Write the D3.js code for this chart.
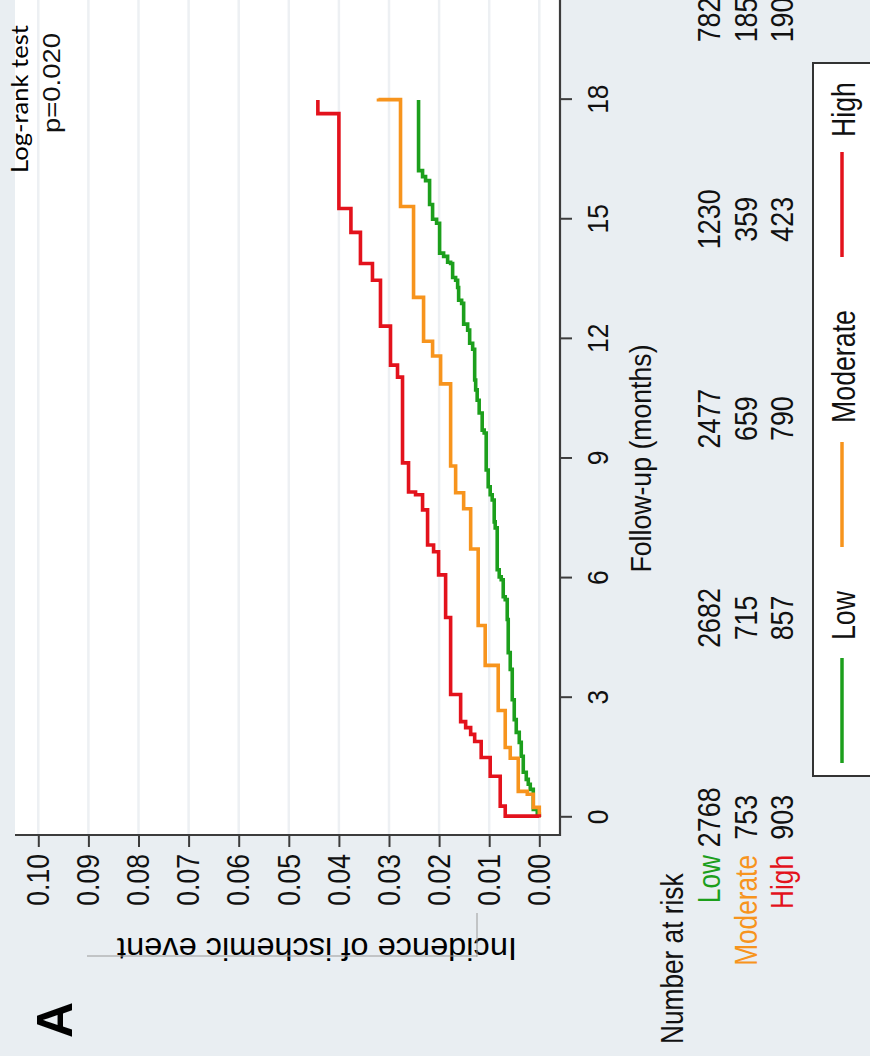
<!DOCTYPE html>
<html><head><meta charset="utf-8">
<script src="https://cdn.jsdelivr.net/npm/d3@7"></script>
<style>html,body{margin:0;padding:0;background:#e9eef2;} svg{display:block}</style>
</head><body><svg id="c" width="870" height="1056"></svg>
<script>
// ---------- data ----------
const timeTicks = [0, 3, 6, 9, 12, 15, 18];
const incTicks = [0, 0.01, 0.02, 0.03, 0.04, 0.05, 0.06, 0.07, 0.08, 0.09, 0.10];
const groups = ["Low", "Moderate", "High"];
const colors = ["#1c9f1c", "#f7941d", "#e3121c"];

const lowTimes = [0.08,0.20,0.70,0.83,0.95,1.13,1.53,1.88,2.13,2.45,2.95,3.71,4.13,4.96,5.46,5.53,5.96,6.03,6.21,7.26,7.41,7.96,8.09,8.29,8.71,9.64,9.71,10.14,10.46,10.72,10.97,11.74,11.89,12.22,12.37,12.89,12.97,13.29,13.47,13.54,13.89,13.92,14.07,14.15,14.90,15.00,15.37,15.97,16.07,16.22];
const lowValues = [0.0004,0.0012,0.0018,0.0022,0.0026,0.0032,0.0036,0.0040,0.0046,0.0050,0.0054,0.0058,0.0062,0.0064,0.0068,0.0072,0.0076,0.0080,0.0084,0.0088,0.0090,0.0094,0.0098,0.0102,0.0106,0.0110,0.0114,0.0120,0.0124,0.0127,0.0129,0.0133,0.0139,0.0143,0.0151,0.0155,0.0161,0.0163,0.0167,0.0173,0.0177,0.0183,0.0191,0.0199,0.0205,0.0213,0.0219,0.0227,0.0233,0.0241];
const lowEnd = 17.99;

const moderateTimes = [0.25,0.58,0.65,1.48,1.75,2.68,3.81,4.81,6.73,7.74,8.14,8.81,10.87,11.57,11.94,13.04,15.32,18.00];
const moderateValues = [0.0012,0.0024,0.0042,0.0058,0.0068,0.0082,0.0108,0.0122,0.0137,0.0151,0.0167,0.0177,0.0197,0.0213,0.0231,0.0251,0.0277,0.0321];
const moderateEnd = 18.03;

const highTimes = [0.03,0.28,1.03,1.50,1.90,2.08,2.25,2.40,3.08,5.01,6.08,6.66,6.83,7.71,8.09,8.16,8.89,11.04,11.34,12.32,13.47,13.89,14.67,15.27,17.65];
const highValues = [0.0068,0.0078,0.0098,0.0116,0.0129,0.0137,0.0147,0.0157,0.0177,0.0187,0.0201,0.0211,0.0223,0.0233,0.0247,0.0261,0.0273,0.0283,0.0297,0.0317,0.0333,0.0357,0.0376,0.0400,0.0442];
const highEnd = 17.99;

const riskTimes = [0, 5, 10, 15, 20];
const riskLow = [2768, 2682, 2477, 1230, 782];
const riskModerate = [753, 715, 659, 359, 185];
const riskHigh = [903, 857, 790, 423, 190];

// ---------- helpers ----------
const FONT = "'Liberation Sans', Arial, sans-serif";
function condense(sel, f) {
  sel.each(function () {
    const L = this.getComputedTextLength();
    this.setAttribute("textLength", L * f);
    this.setAttribute("lengthAdjust", "spacingAndGlyphs");
  });
}
function fit(sel, len) {
  sel.attr("textLength", len).attr("lengthAdjust", "spacingAndGlyphs");
}

const svg = d3.select("#c");
svg.append("rect").attr("width", 870).attr("height", 1056).attr("fill", "#e9eef2");
// chart drawn in its upright orientation, then turned a quarter turn
const g = svg.append("g").attr("transform", "translate(0,1056) rotate(-90)");

const x = d3.scaleLinear().domain([0, 20]).range([238.7, 1036.1]);
const y = d3.scaleLinear().domain([0, 0.1]).range([539.3, 38.3]);

// panel
g.append("rect").attr("x", 220).attr("y", 15).attr("width", 860).attr("height", 545).attr("fill", "#ffffff");
g.append("g").selectAll("line").data(incTicks).join("line")
  .attr("x1", 221).attr("x2", 1080)
  .attr("y1", d => y(d)).attr("y2", d => y(d))
  .attr("stroke", "#edf0f3").attr("stroke-width", 2.5);

// curves
const line = d3.line().x(d => x(d[0])).y(d => y(d[1])).curve(d3.curveStepAfter);
function pts(ts, vs, end) {
  const p = [[0, 0]];
  ts.forEach((t, i) => p.push([t, vs[i]]));
  p.push([end, vs[vs.length - 1]]);
  return p;
}
const series = [pts(lowTimes, lowValues, lowEnd), pts(moderateTimes, moderateValues, moderateEnd), pts(highTimes, highValues, highEnd)];
g.append("g").selectAll("path").data(series).join("path")
  .attr("d", line).attr("fill", "none")
  .attr("stroke", (d, i) => colors[i]).attr("stroke-width", 3.6)
  .attr("stroke-linejoin", "miter").attr("stroke-linecap", "butt");

// axes
const axCol = "#3c3c3c";
const xAxis = d3.axisBottom(x).tickValues(timeTicks).tickSize(12).tickPadding(15).tickFormat(d3.format("d"));
const gx = g.append("g").attr("transform", "translate(0,560)").call(xAxis);
gx.select(".domain").remove();
gx.selectAll(".tick line").attr("stroke", axCol).attr("stroke-width", 2);
gx.selectAll(".tick text").attr("font-family", FONT).attr("font-size", 30).attr("fill", "#111").call(condense, 0.88);
g.append("line").attr("x1", 220).attr("x2", 1080).attr("y1", 560).attr("y2", 560).attr("stroke", axCol).attr("stroke-width", 2.2);

const yAxis = d3.axisLeft(y).tickValues(incTicks).tickSize(12).tickPadding(7).tickFormat(d3.format(".2f"));
const gy = g.append("g").attr("transform", "translate(221,0)").call(yAxis);
gy.select(".domain").remove();
gy.selectAll(".tick line").attr("stroke", axCol).attr("stroke-width", 2);
gy.selectAll(".tick text").attr("font-family", FONT).attr("font-size", 32).attr("fill", "#111").call(condense, 0.83);
g.append("line").attr("x1", 221).attr("x2", 221).attr("y1", 15).attr("y2", 561).attr("stroke", axCol).attr("stroke-width", 2.2);

// axis titles
g.append("text").attr("x", (x(0) + x(18)) / 2 + 0).attr("y", 651)
  .attr("text-anchor", "middle").attr("font-family", FONT).attr("font-size", 30).attr("fill", "#111")
  .text("Follow-up (months)").call(fit, 228);
g.append("text").attr("transform", "translate(118,317) rotate(-90)")
  .attr("text-anchor", "middle").attr("font-family", FONT).attr("font-size", 32).attr("fill", "#000")
  .text("Incidence of ischemic event").call(fit, 400);
// stray guide lines around the title
g.append("line").attr("x1", 100).attr("x2", 100).attr("y1", 87).attr("y2", 477).attr("stroke", "#9a9a9a").attr("stroke-width", 1);
g.append("line").attr("x1", 99).attr("x2", 143).attr("y1", 477).attr("y2", 477).attr("stroke", "#9a9a9a").attr("stroke-width", 1);

// panel label
g.append("text").attr("x", 18).attr("y", 72).attr("font-family", FONT).attr("font-weight", "bold")
  .attr("font-size", 50).attr("fill", "#000").text("A");

// log-rank annotation
g.append("text").attr("x", 1031).attr("y", 28).attr("text-anchor", "end")
  .attr("font-family", "Lato, 'Open Sans', sans-serif").attr("font-size", 23).attr("fill", "#000")
  .text("Log-rank test").call(fit, 148);
g.append("text").attr("x", 1023).attr("y", 60).attr("text-anchor", "end")
  .attr("font-family", FONT).attr("font-size", 24).attr("fill", "#111")
  .text("p=0.020").call(fit, 100);

// number at risk table
const riskRows = [riskLow, riskModerate, riskHigh];
const rowY = [720, 757, 793];
g.append("text").attr("x", 12).attr("y", 683).attr("font-family", FONT).attr("font-size", 32).attr("fill", "#111")
  .text("Number at risk").call(condense, 0.82);
groups.forEach((name, i) => {
  g.append("text").attr("x", 201).attr("y", rowY[i]).attr("text-anchor", "end")
    .attr("font-family", FONT).attr("font-size", 32).attr("fill", colors[i])
    .text(name).call(condense, 0.82);
  g.append("g").selectAll("text").data(riskRows[i]).join("text")
    .attr("x", (d, j) => x(riskTimes[j])).attr("y", rowY[i]).attr("text-anchor", "middle")
    .attr("font-family", FONT).attr("font-size", 32).attr("fill", "#111")
    .text(d => d).call(condense, 0.84);
});

// legend
g.append("rect").attr("x", 280).attr("y", 813).attr("width", 713).attr("height", 120)
  .attr("fill", "#ffffff").attr("stroke", "#333").attr("stroke-width", 2);
const legLine = [[293, 398], [509, 614], [799, 904]];
const legText = [416, 633, 919];
groups.forEach((name, i) => {
  g.append("line").attr("x1", legLine[i][0]).attr("x2", legLine[i][1]).attr("y1", 842).attr("y2", 842)
    .attr("stroke", colors[i]).attr("stroke-width", 3.5);
  g.append("text").attr("x", legText[i]).attr("y", 855).attr("font-family", FONT).attr("font-size", 33)
    .attr("fill", "#111").text(name).call(condense, 0.81);
});
</script></body></html>
